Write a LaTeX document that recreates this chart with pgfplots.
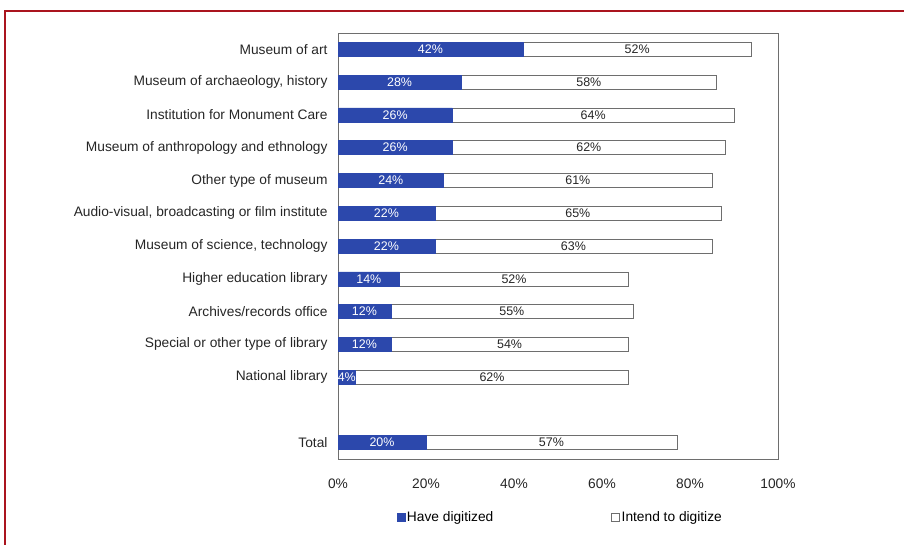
\documentclass[border=0pt]{standalone}
\usepackage{pgfplots}
\pgfplotsset{compat=1.18}
\usepackage{pgfplotstable}
\usepackage{fontspec}
\setmainfont{Liberation Sans}
\definecolor{barblue}{RGB}{44,72,172}
\definecolor{framered}{RGB}{170,20,30}
\definecolor{edgegray}{RGB}{110,110,110}

\pgfplotstableread{
idx have intend
0 42 52
1 28 58
2 26 64
3 26 62
4 24 61
5 22 65
6 22 63
7 14 52
8 12 55
9 12 54
10 4 62
12 20 57
}\data

\begin{document}
\begin{tikzpicture}
\useasboundingbox (0,0) rectangle (904bp,545bp);
\draw[framered, line width=2bp] (5bp,0) -- (5bp,534bp) -- (904bp,534bp);
\begin{axis}[
  at={(338bp,86bp)}, anchor=south west,
  scale only axis, width=440bp, height=426bp,
  xbar, bar width=14bp,
  xmin=0, xmax=100, ymin=-0.5, ymax=12.5, y dir=reverse,
  axis line style={edgegray},
  major tick length=0pt,
  xtick={0,20,...,100},
  xticklabel={\pgfmathprintnumber{\tick}\%},
  ytick={0,1,2,3,4,5,6,7,8,9,10,12},
  yticklabels={Museum of art,{Museum of archaeology, history},Institution for Monument Care,Museum of anthropology and ethnology,Other type of museum,{Audio-visual, broadcasting or film institute},{Museum of science, technology},Higher education library,Archives/records office,Special or other type of library,National library,Total},
  ticklabel style={font=\fontsize{13.8}{15}\selectfont, text=black!85},
  yticklabel style={xshift=-7bp},
  xticklabel style={yshift=-16bp},
  /pgf/number format/assume math mode=true,
  legend columns=2,
  legend style={at={(0.505,-0.136)}, anchor=center, draw=none, fill=none,
    font=\fontsize{13.8}{15}\selectfont,
    /tikz/every even column/.append style={column sep=116bp}},
  legend image code/.code={\draw[#1] (0bp,-4bp) rectangle (8bp,4bp);},
]
\addlegendimage{fill=barblue, draw=barblue}
\addlegendentry{Have digitized}
\addlegendimage{fill=white, draw=edgegray}
\addlegendentry{Intend to digitize}

\addplot[xbar, bar shift=0pt, fill=white, draw=edgegray, forget plot]
  table[x expr=\thisrow{have}+\thisrow{intend}, y=idx]{\data};
\addplot[xbar, bar shift=0pt, fill=barblue, draw=barblue, forget plot]
  table[x=have, y=idx]{\data};

\addplot[xbar, bar shift=0pt, draw=none, fill=none, forget plot,
  point meta=\thisrow{have},
  nodes near coords={\pgfmathprintnumber{\pgfplotspointmeta}\%},
  nodes near coords align=center,
  every node near coord/.append style={anchor=center, text=white, font=\fontsize{12.5}{14}\selectfont}]
  table[x expr=\thisrow{have}/2, y=idx]{\data};
\addplot[xbar, bar shift=0pt, draw=none, fill=none, forget plot,
  point meta=\thisrow{intend},
  nodes near coords={\pgfmathprintnumber{\pgfplotspointmeta}\%},
  nodes near coords align=center,
  every node near coord/.append style={anchor=center, text=black!85, font=\fontsize{12.5}{14}\selectfont}]
  table[x expr=\thisrow{have}+\thisrow{intend}/2, y=idx]{\data};
\end{axis}
\end{tikzpicture}
\end{document}
